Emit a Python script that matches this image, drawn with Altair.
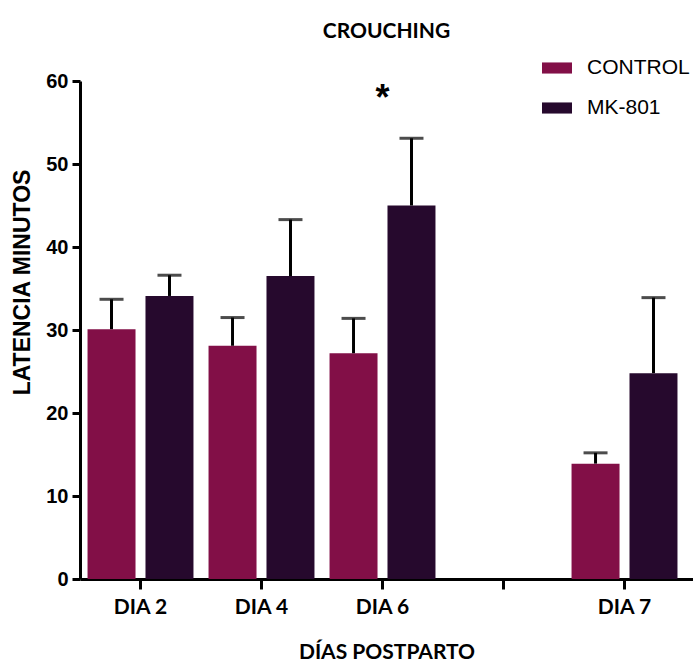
import altair as alt
import pandas as pd

# ---- data ----
categories = ["DIA 2", "DIA 4", "DIA 6", " ", "DIA 7"]
days = ["DIA 2", "DIA 4", "DIA 6", "DIA 7"]
groups = ["CONTROL", "MK-801"]
control_mean = [30.1, 28.1, 27.2, 13.9]
control_err = [3.6, 3.4, 4.2, 1.3]
mk_mean = [34.1, 36.5, 45.0, 24.8]
mk_err = [2.5, 6.8, 8.1, 9.1]
star_day = "DIA 6"
star_text = "*"

colors = ["#820f47", "#26092d"]

rows = []
for d, m, e in zip(days, control_mean, control_err):
    rows.append({"day": d, "group": "CONTROL", "mean": m, "top": m + e})
for d, m, e in zip(days, mk_mean, mk_err):
    rows.append({"day": d, "group": "MK-801", "mean": m, "top": m + e})
df = pd.DataFrame(rows)

star_df = df[(df["day"] == star_day) & (df["group"] == "MK-801")].assign(label=star_text)

xenc = alt.X(
    "day:N",
    scale=alt.Scale(domain=categories, paddingInner=0, paddingOuter=0.033, align=0),
    sort=categories,
    axis=alt.Axis(
        title="DÍAS POSTPARTO",
        labelAngle=0,
        labelFont="Lato",
        labelFontWeight="bold",
        labelFontSize=21,
        labelColor="black",
        labelPadding=7,
        tickSize=10,
        titleFont="Lato",
        titleFontWeight="bold",
        titleFontSize=21,
        titleColor="black",
        titlePadding=24,
    ),
)
xoff = alt.XOffset(
    "group:N",
    scale=alt.Scale(domain=groups, paddingInner=0.172, paddingOuter=0.13),
)
yenc = alt.Y(
    "mean:Q",
    scale=alt.Scale(domain=[0, 60], nice=False),
    axis=alt.Axis(
        title="LATENCIA MINUTOS",
        values=[0, 10, 20, 30, 40, 50, 60],
        grid=False,
        labelFont="Liberation Sans",
        labelFontWeight=900,
        labelFontSize=20,
        labelColor="black",
        labelPadding=4,
        tickSize=8,
        titleFont="Liberation Sans",
        titleFontWeight="bold",
        titleFontSize=23,
        titleColor="black",
        titleX=-58,
        titleY=201,
        titleAlign="center",
        titleBaseline="middle",
    ),
)

bars = alt.Chart(df).mark_bar().encode(
    x=xenc,
    xOffset=xoff,
    y=yenc,
    color=alt.Color(
        "group:N",
        scale=alt.Scale(domain=groups, range=colors),
        legend=alt.Legend(
            title=None,
            orient="none",
            legendX=462,
            legendY=-28,
            symbolType="M-1,-0.37H1V0.37H-1Z",
            symbolSize=900,
            symbolStrokeWidth=0,
            labelFont="Liberation Sans",
            labelFontSize=21,
            labelColor="black",
            labelOffset=15,
            rowPadding=15,
        ),
    ),
)

rules = alt.Chart(df).mark_rule(color="black", strokeWidth=3).encode(
    x=alt.X("day:N", sort=categories),
    xOffset=alt.XOffset("group:N"),
    y=alt.Y("mean:Q"),
    y2="top:Q",
)

caps = alt.Chart(df).mark_tick(color="black", thickness=3, size=24, orient="horizontal").encode(
    x=alt.X("day:N", sort=categories),
    xOffset=alt.XOffset("group:N"),
    y=alt.Y("top:Q"),
)

star = alt.Chart(star_df).mark_text(
    font="Liberation Sans", fontWeight="bold", fontSize=36, color="black",
    baseline="alphabetic", align="center", dy=-28,
).encode(
    x=alt.X("day:N", sort=categories),
    y=alt.Y("top:Q"),
    text="label:N",
)

chart = (
    alt.layer(bars, rules, caps, star)
    .properties(
        width=613,
        height=498,
        title=alt.TitleParams(
            "CROUCHING", font="Lato", fontWeight="bold", fontSize=21, color="black",
            anchor="middle", offset=11,
        ),
        autosize=alt.AutoSizeParams(type="none"),
        padding={"left": 80, "top": 81, "right": 0, "bottom": 88},
    )
    .configure_view(stroke=None)
    .configure_axis(domainColor="black", domainWidth=3, tickColor="black", tickWidth=3)
)

chart.save("out.html", embed_options={"renderer": "svg", "actions": False})
